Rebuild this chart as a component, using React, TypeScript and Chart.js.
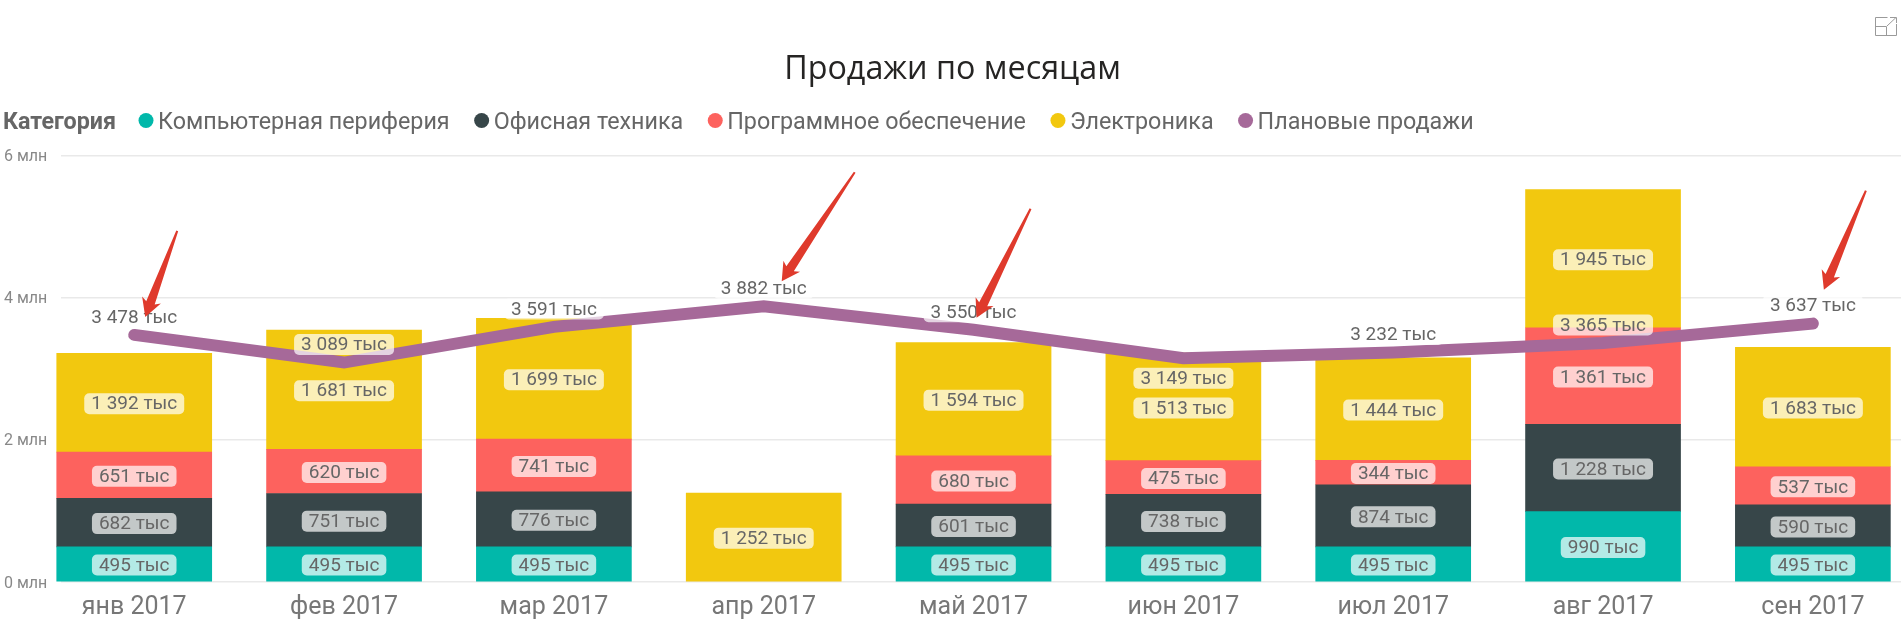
import React, { useEffect, useRef } from "react";
import { Chart, registerables } from "chart.js";

Chart.register(...registerables);

const months = ["янв 2017", "фев 2017", "мар 2017", "апр 2017", "май 2017", "июн 2017", "июл 2017", "авг 2017", "сен 2017"];
const peripherals = [495, 495, 495, null, 495, 495, 495, 990, 495];
const office = [682, 751, 776, null, 601, 738, 874, 1228, 590];
const software = [651, 620, 741, null, 680, 475, 344, 1361, 537];
const electronics = [1392, 1681, 1699, 1252, 1594, 1513, 1444, 1945, 1683];
const plan = [3478, 3089, 3591, 3882, 3550, 3149, 3232, 3365, 3637];
const planLabelBelow = ["июн 2017"];
const yTicks = [0, 2000, 4000, 6000];

const NARROW = 'Roboto, sans-serif';
const fmt = (v: number) => {
  const s = String(v);
  return (s.length > 3 ? s.slice(0, -3) + " " + s.slice(-3) : s) + " тыс";
};

function pts(values: (number | null)[]) {
  return values.map((y, x) => ({ x, y }));
}

const labelsPlugin = {
  id: "valueLabels",
  afterDatasetsDraw(chart: any) {
    const { ctx } = chart;
    ctx.save();
    ctx.font = `19px ${NARROW}`;
    ctx.textAlign = "center";
    ctx.textBaseline = "middle";
    const box = (text: string, x: number, y: number) => {
      const w = ctx.measureText(text).width + 14;
      ctx.fillStyle = "rgba(255,255,255,0.7)";
      ctx.beginPath();
      ctx.roundRect(x - w / 2, y - 10.5, w, 21, 5);
      ctx.fill();
      ctx.fillStyle = "#666666";
      ctx.fillText(text, x, y + 1);
    };
    chart.data.datasets.forEach((ds: any, di: number) => {
      const meta = chart.getDatasetMeta(di);
      meta.data.forEach((el: any, i: number) => {
        const raw = ds.data[i].y;
        if (raw == null) return;
        if (ds.type === "line") {
          const below = planLabelBelow.includes(months[i]);
          box(fmt(raw), el.x, el.y + (below ? 20 : -18));
        } else {
          box(fmt(raw), el.x, (el.y + el.base) / 2 + 1);
        }
      });
    });
    ctx.restore();
  },
};

const arrowsPlugin = {
  id: "arrows",
  afterDraw(chart: any) {
    const { ctx } = chart;
    const x = chart.scales.x;
    const y = chart.scales.y;
    const notes = [
      { i: 0, tip: [11, -18], tail: [43, -104] },
      { i: 3, tip: [18, -25], tail: [91, -134] },
      { i: 4, tip: [3, -12], tail: [57, -121] },
      { i: 8, tip: [11, -34], tail: [53, -133] },
    ];
    ctx.save();
    ctx.fillStyle = "#DF3A2C";
    for (const n of notes) {
      const px = x.getPixelForValue(n.i);
      const py = y.getPixelForValue(plan[n.i]);
      const tx = px + n.tip[0], ty = py + n.tip[1];
      const bx = px + n.tail[0], by = py + n.tail[1];
      const len = Math.hypot(tx - bx, ty - by);
      const ux = (tx - bx) / len, uy = (ty - by) / len;
      const nx = -uy, ny = ux;
      const at = (along: number, side: number): [number, number] => [
        bx + ux * along + nx * side,
        by + uy * along + ny * side,
      ];
      const shape = [at(0, 1), at(len - 15, 4.5), at(len - 18, 10), at(len, 0), at(len - 18, -10), at(len - 15, -4.5), at(0, -1)];
      ctx.beginPath();
      shape.forEach((p, k) => (k ? ctx.lineTo(p[0], p[1]) : ctx.moveTo(p[0], p[1])));
      ctx.closePath();
      ctx.fill();
    }
    ctx.restore();
  },
};

const chromePlugin = {
  id: "chrome",
  afterDraw(chart: any) {
    const { ctx } = chart;
    ctx.save();
    // Legend
    ctx.textBaseline = "middle";
    ctx.textAlign = "left";
    ctx.font = `bold 23.3px ${NARROW}`;
    ctx.fillStyle = "#666666";
    ctx.fillText("Категория", 3, 123);
    let cx = 146;
    chart.data.datasets.slice().sort((a: any, b: any) => a.legendOrder - b.legendOrder).forEach((ds: any) => {
      ctx.fillStyle = ds.legendColor;
      ctx.beginPath();
      ctx.arc(cx, 120.5, 7.5, 0, Math.PI * 2);
      ctx.fill();
      ctx.font = `23.3px ${NARROW}`;
      ctx.fillStyle = "#666666";
      ctx.fillText(ds.label, cx + 12, 123);
      cx += 12 + ctx.measureText(ds.label).width + 32;
    });
    // Focus-mode icon
    ctx.strokeStyle = "#9a9a9a";
    ctx.lineWidth = 1;
    ctx.beginPath();
    ctx.moveTo(1887.5, 17.5); ctx.lineTo(1875.5, 17.5); ctx.lineTo(1875.5, 35.5); ctx.lineTo(1896.5, 35.5); ctx.lineTo(1896.5, 24);
    ctx.moveTo(1875.5, 26.5); ctx.lineTo(1886.5, 26.5); ctx.lineTo(1886.5, 35.5);
    ctx.moveTo(1887, 26); ctx.lineTo(1896, 17.5); ctx.moveTo(1890, 17.5); ctx.lineTo(1896.5, 17.5); ctx.lineTo(1896.5, 23);
    ctx.stroke();
    ctx.restore();
  },
};

export default function App() {
  const ref = useRef<HTMLCanvasElement>(null);
  useEffect(() => {
    document.body.style.margin = "0";
    const bar = (label: string, data: (number | null)[], color: string, legendOrder: number) => ({
      type: "bar" as const,
      label,
      data: pts(data),
      backgroundColor: color,
      legendColor: color,
      legendOrder,
      barThickness: 155,
      order: 2,
      clip: false,
    });
    const chart = new Chart(ref.current!, {
      type: "bar",
      data: {
        datasets: [
          bar("Компьютерная периферия", peripherals, "#01B8AA", 0),
          bar("Офисная техника", office, "#374649", 1),
          bar("Программное обеспечение", software, "#FD625E", 2),
          bar("Электроника", electronics, "#F2C80F", 3),
          {
            type: "line" as const,
            label: "Плановые продажи",
            data: pts(plan),
            borderColor: "#A66999",
            legendColor: "#A66999",
            legendOrder: 4,
            borderWidth: 12,
            borderCapStyle: "round",
            borderJoinStyle: "miter",
            pointRadius: 0,
            tension: 0,
            order: 1,
            clip: false,
          } as any,
        ],
      },
      options: {
        animation: false,
        responsive: false,
        layout: { padding: { left: 4, top: 0, right: 0, bottom: 0 } },
        plugins: {
          legend: { display: false },
          tooltip: { enabled: false },
          title: {
            display: true,
            text: "Продажи по месяцам",
            color: "#252423",
            font: { family: '"Open Sans", sans-serif', size: 32.3, weight: "normal", lineHeight: 1.2 },
            position: "top",
            fullSize: true,
            padding: { top: 50, bottom: 67 },
          },
        },
        scales: {
          x: {
            type: "linear",
            offset: false,
            stacked: true,
            min: -0.349,
            max: 8.42,
            grid: { display: false },
            border: { display: false },
            afterBuildTicks(scale: any) {
              scale.ticks = months.map((_, value) => ({ value }));
            },
            afterFit(scale: any) {
              scale.height = 62;
            },
            ticks: {
              autoSkip: false,
              maxRotation: 0,
              padding: 3,
              color: "#777777",
              font: { family: NARROW, size: 25 },
              callback: (v: any) => months[v as number] ?? "",
            },
          },
          y: {
            stacked: true,
            min: yTicks[0],
            max: yTicks[yTicks.length - 1],
            grid: { color: "#E9E9E9", lineWidth: 1.5, drawTicks: false },
            border: { display: false },
            afterBuildTicks(scale: any) {
              scale.ticks = yTicks.map((value) => ({ value }));
            },
            afterFit(scale: any) {
              scale.width = 57;
            },
            ticks: {
              padding: 14,
              color: "#888888",
              crossAlign: "far",
              labelOffset: 1.5,
              font: { family: NARROW, size: 16 },
              callback: (v: any) => `${(v as number) / 1000} млн`,
            },
          },
        },
      } as any,
      plugins: [labelsPlugin, arrowsPlugin, chromePlugin],
    } as any);
    return () => chart.destroy();
  }, []);
  return <canvas ref={ref} width={1901} height={644} style={{ display: "block" }} />;
}
